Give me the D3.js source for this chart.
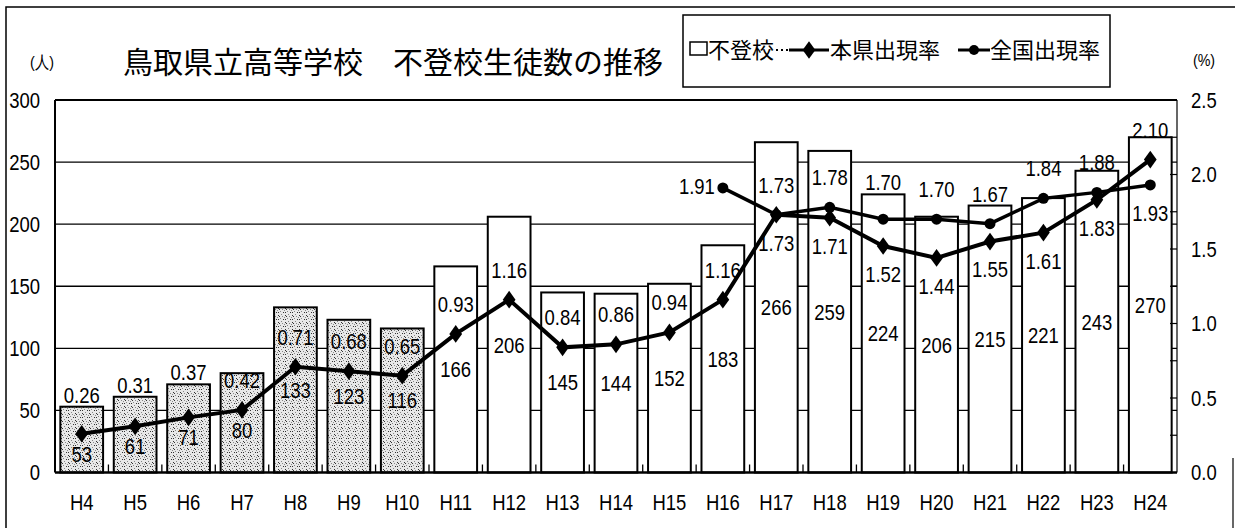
<!DOCTYPE html>
<html>
<head>
<meta charset="utf-8">
<script src="https://cdn.jsdelivr.net/npm/d3@7"></script>
<style>
  body { margin: 0; background: #fff; }
  text { fill: #000; }
  .num { font-family: "Liberation Sans", Arial, sans-serif; }
  .jp { font-family: "Noto Sans CJK JP", "Noto Sans", sans-serif; }
</style>
</head>
<body>
<svg id="chart"></svg>
<script>
// 年度
const years = ["H4","H5","H6","H7","H8","H9","H10","H11","H12","H13","H14","H15","H16","H17","H18","H19","H20","H21","H22","H23","H24"]
// 不登校生徒数（人）
const students = [53,61,71,80,133,123,116,166,206,145,144,152,183,266,259,224,206,215,221,243,270]
// 本県出現率（%）
const prefRate = [0.26,0.31,0.37,0.42,0.71,0.68,0.65,0.93,1.16,0.84,0.86,0.94,1.16,1.73,1.71,1.52,1.44,1.55,1.61,1.83,2.10]
// 全国出現率（%） H16から
const natYears = ["H16","H17","H18","H19","H20","H21","H22","H23","H24"]
const natRate = [1.91,1.73,1.78,1.70,1.70,1.67,1.84,1.88,1.93]
// 網掛けの年度
const shadedYears = ["H4","H5","H6","H7","H8","H9","H10"]
// label side: a = above, b = below, l = left
const prefLabelSide = ["a","a","a","a","a","a","a","a","a","a","a","a","a","b","b","b","b","b","b","b","a"]
const natLabelSide = ["l","a","a","a","a","a","a","a","b"]

const leftTicks = [0,50,100,150,200,250,300]
const rightTicks = [0.0,0.5,1.0,1.5,2.0,2.5]

const width = 1235
const height = 528
const margin = { top: 100, right: 58, bottom: 55.5, left: 55 }
const innerWidth = width - margin.left - margin.right
const innerHeight = height - margin.top - margin.bottom

const svg = d3.select('#chart').attr('width', width).attr('height', height)

// the digits in the original are narrow, so squeeze them with textLength
const narrow = (parent, x, y, str, size, anchor) => {
    const t = parent.append('text')
        .attr('class', 'num')
        .attr('x', x).attr('y', y)
        .attr('dy', '0.36em')
        .attr('text-anchor', anchor || 'middle')
        .attr('font-size', size)
        .text(str)
    const w = t.node().getComputedTextLength()
    t.attr('textLength', w * 0.84).attr('lengthAdjust', 'spacingAndGlyphs')
}

// stipple texture for the older bars
const defs = svg.append('defs')
const pat = defs.append('pattern')
    .attr('id', 'stipple')
    .attr('patternUnits', 'userSpaceOnUse')
    .attr('width', 7).attr('height', 7)
pat.append('rect').attr('width', 7).attr('height', 7).attr('fill', '#e8e8e8')
const dots = [[1,1],[4,2],[2,4],[6,5],[5,0],[0,6],[3,6],[6,2]]
dots.forEach(([x, y], i) => {
    pat.append('rect').attr('x', x).attr('y', y).attr('width', 1).attr('height', 1)
        .attr('fill', i % 2 ? '#333' : '#888')
})

// outer frame (right and bottom run past the page, like the scan)
svg.append('path')
    .attr('d', 'M6,530 V7 H1240')
    .attr('fill', 'none').attr('stroke', '#000').attr('stroke-width', 1.5)
svg.append('line').attr('x1', 1233).attr('x2', 1233).attr('y1', 458).attr('y2', 528)
    .attr('stroke', '#000').attr('stroke-width', 1.2)

const xScale = d3.scaleBand().domain(years).range([0, innerWidth]).paddingInner(0.2).paddingOuter(0.1)
const yScale = d3.scaleLinear().domain([0, 300]).range([innerHeight, 0])
const rScale = d3.scaleLinear().domain([0, 2.5]).range([innerHeight, 0])
const step = innerWidth / years.length
const cx = d => xScale(d) + xScale.bandwidth() / 2

const g = svg.append('g').attr('transform', `translate(${margin.left}, ${margin.top})`)

// gridlines
g.selectAll('.grid').data(leftTicks.slice(1, -1)).enter().append('line')
    .attr('x1', 0).attr('x2', innerWidth)
    .attr('y1', d => yScale(d)).attr('y2', d => yScale(d))
    .attr('stroke', '#000').attr('stroke-width', 1.3)

// plot border
g.append('line').attr('x1', 0).attr('x2', innerWidth).attr('y1', 0).attr('y2', 0)
    .attr('stroke', '#000').attr('stroke-width', 2)
g.append('line').attr('x1', 0).attr('x2', 0).attr('y1', 0).attr('y2', innerHeight)
    .attr('stroke', '#000').attr('stroke-width', 2)
g.append('line').attr('x1', innerWidth).attr('x2', innerWidth).attr('y1', 0).attr('y2', innerHeight)
    .attr('stroke', '#000').attr('stroke-width', 1.2)

// bars
g.selectAll('.bar').data(years).enter().append('rect')
    .attr('x', d => xScale(d))
    .attr('y', (d, i) => yScale(students[i]))
    .attr('width', xScale.bandwidth())
    .attr('height', (d, i) => innerHeight - yScale(students[i]))
    .attr('fill', d => shadedYears.includes(d) ? 'url(#stipple)' : '#fff')
    .attr('stroke', '#000').attr('stroke-width', 2)

// x axis baseline and small boundary ticks
g.append('line').attr('x1', 0).attr('x2', innerWidth).attr('y1', innerHeight).attr('y2', innerHeight)
    .attr('stroke', '#000').attr('stroke-width', 2.5)
g.selectAll('.xtick').data(d3.range(1, years.length)).enter().append('line')
    .attr('x1', d => d * step).attr('x2', d => d * step)
    .attr('y1', innerHeight).attr('y2', innerHeight - 8)
    .attr('stroke', '#000').attr('stroke-width', 1.3)

// right axis inner ticks
g.selectAll('.rtick').data(d3.range(0.25, 2.5, 0.25)).enter().append('line')
    .attr('x1', innerWidth - 7).attr('x2', innerWidth)
    .attr('y1', d => rScale(d)).attr('y2', d => rScale(d))
    .attr('stroke', '#000').attr('stroke-width', 1.2)

// lines
const lineFn = d3.line().x(d => cx(d[0])).y(d => rScale(d[1]))
const prefPts = years.map((y, i) => [y, prefRate[i]])
const natPts = natYears.map((y, i) => [y, natRate[i]])

g.append('path').datum(natPts).attr('d', lineFn)
    .attr('fill', 'none').attr('stroke', '#000').attr('stroke-width', 3.5)
g.append('path').datum(prefPts).attr('d', lineFn)
    .attr('fill', 'none').attr('stroke', '#000').attr('stroke-width', 4)

const diamond = d3.symbol().type(d3.symbolDiamond).size(90)
g.selectAll('.pm').data(prefPts).enter().append('path')
    .attr('d', diamond)
    .attr('transform', d => `translate(${cx(d[0])}, ${rScale(d[1])}) scale(1.25, 1)`)
    .attr('fill', '#000')
g.selectAll('.nm').data(natPts).enter().append('circle')
    .attr('cx', d => cx(d[0])).attr('cy', d => rScale(d[1])).attr('r', 5.5)
    .attr('fill', '#000')

// bar value labels
years.forEach((d, i) => {
    const mid = (yScale(students[i]) + innerHeight) / 2
    narrow(g, cx(d), Math.max(mid, rScale(prefRate[i]) + 20), students[i], 22)
})

// rate labels; an "above" label that would sit on a bar's top edge goes just over it
const labelY = (side, v, year) => {
    if (side === 'b') return rScale(v) + 28
    const y = rScale(v) - 30
    const top = yScale(students[years.indexOf(year)])
    return Math.abs(top - y) < 6 ? top - 12 : y
}
prefPts.forEach((d, i) => {
    narrow(g, cx(d[0]), labelY(prefLabelSide[i], d[1], d[0]), d[1].toFixed(2), 22)
})
natPts.forEach((d, i) => {
    if (natLabelSide[i] === 'l') {
        narrow(g, cx(d[0]) - 8, rScale(d[1]) - 2, d[1].toFixed(2), 22, 'end')
    } else {
        narrow(g, cx(d[0]), labelY(natLabelSide[i], d[1], d[0]), d[1].toFixed(2), 22)
    }
})

// axis labels
leftTicks.forEach(d => narrow(svg, 40, margin.top + yScale(d), d, 22, 'end'))
rightTicks.forEach(d => narrow(svg, 1191, margin.top + rScale(d), d.toFixed(1), 22, 'start'))
years.forEach(d => narrow(svg, margin.left + cx(d), 502, d, 22))

narrow(svg, 42, 62, '(人)', 17)
narrow(svg, 1204, 60, '(%)', 17)

// title
svg.append('text').attr('class', 'jp')
    .attr('x', 123).attr('y', 73).attr('font-size', 30)
    .text('鳥取県立高等学校　不登校生徒数の推移')

// legend
const lg = svg.append('g')
lg.append('rect').attr('x', 683).attr('y', 15).attr('width', 427).attr('height', 72)
    .attr('fill', '#fff').attr('stroke', '#000').attr('stroke-width', 1.5)
lg.append('rect').attr('x', 690).attr('y', 42).attr('width', 17).attr('height', 13)
    .attr('fill', '#fff').attr('stroke', '#000').attr('stroke-width', 1.5)
lg.append('text').attr('class', 'jp').attr('x', 708).attr('y', 58).attr('font-size', 22).text('不登校')
lg.append('line').attr('x1', 776).attr('x2', 788).attr('y1', 50).attr('y2', 50)
    .attr('stroke', '#000').attr('stroke-width', 2).attr('stroke-dasharray', '2,3')
lg.append('line').attr('x1', 789).attr('x2', 829).attr('y1', 50).attr('y2', 50)
    .attr('stroke', '#000').attr('stroke-width', 3)
lg.append('path').attr('d', diamond).attr('transform', 'translate(809, 50) scale(1.25, 1)')
lg.append('text').attr('class', 'jp').attr('x', 830).attr('y', 58).attr('font-size', 22).text('本県出現率')
lg.append('line').attr('x1', 958).attr('x2', 990).attr('y1', 50).attr('y2', 50)
    .attr('stroke', '#000').attr('stroke-width', 3)
lg.append('circle').attr('cx', 974).attr('cy', 50).attr('r', 5)
lg.append('text').attr('class', 'jp').attr('x', 990).attr('y', 58).attr('font-size', 22).text('全国出現率')
</script>
</body>
</html>
